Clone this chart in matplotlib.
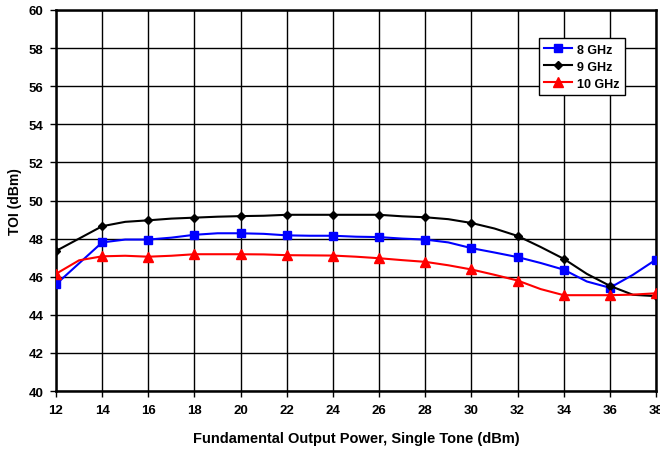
import numpy as np
import matplotlib

matplotlib.use("Agg")
import matplotlib.pyplot as plt

plt.rcParams["font.family"] = ["Liberation Sans", "DejaVu Sans"]
plt.rcParams["font.weight"] = "bold"

# power levels (dBm), 1 dB steps; markers are drawn on the even ones
power = [12, 13, 14, 15, 16, 17, 18, 19, 20, 21, 22, 23, 24, 25,
         26, 27, 28, 29, 30, 31, 32, 33, 34, 35, 36, 37, 38]

toi_8ghz = [45.6, 46.7, 47.8, 47.95, 47.95, 48.05, 48.2, 48.28, 48.28, 48.25,
            48.17, 48.15, 48.15, 48.1, 48.08, 48.0, 47.95, 47.8, 47.5, 47.27,
            47.03, 46.72, 46.37, 45.75, 45.42, 46.1, 46.9]
toi_9ghz = [47.35, 48.0, 48.65, 48.88, 48.96, 49.05, 49.1, 49.15, 49.18, 49.2,
            49.25, 49.25, 49.25, 49.25, 49.25, 49.17, 49.12, 49.02, 48.82, 48.53,
            48.14, 47.56, 46.94, 46.15, 45.52, 45.05, 44.98]
toi_10ghz = [46.15, 46.86, 47.07, 47.1, 47.05, 47.1, 47.18, 47.18, 47.18, 47.17,
             47.13, 47.12, 47.11, 47.05, 46.97, 46.87, 46.78, 46.6, 46.38, 46.1,
             45.8, 45.35, 45.03, 45.03, 45.03, 45.06, 45.13]

series = [
    ("8 GHz", toi_8ghz, "#0000FF", "s", 5.5),
    ("9 GHz", toi_9ghz, "#000000", "D", 4.5),
    ("10 GHz", toi_10ghz, "#FF0000", "^", 6.5),
]


def plot_toi():
    fig = plt.figure(figsize=(6.6, 4.52), dpi=100)
    ax = fig.add_axes([0.0848, 0.1327, 0.9092, 0.843])

    for label, values, color, marker, ms in series:
        ax.plot(power, values, color=color, lw=1.5, marker=marker, ms=ms,
                markevery=2, label=label, zorder=3)

    ax.set_xlim(12, 38)
    ax.set_ylim(40, 60)
    ax.set_xticks(np.arange(12, 39, 2))
    ax.set_yticks(np.arange(40, 61, 2))
    ax.grid(True, color="black", lw=1.0)
    ax.set_axisbelow(True)
    for s in ax.spines.values():
        s.set_linewidth(1.8)
    ax.tick_params(direction="out", length=4, width=1, labelsize=9.5, pad=5)
    for t in ax.get_xticklabels() + ax.get_yticklabels():
        t.set_fontweight("bold")

    ax.set_xlabel("Fundamental Output Power, Single Tone (dBm)",
                  fontsize=10.5, fontweight="bold", labelpad=11)
    ax.set_ylabel("TOI (dBm)", fontsize=10, fontweight="bold")
    ax.yaxis.set_label_coords(-0.057, 0.5)

    leg = ax.legend(loc="upper right", bbox_to_anchor=(0.948, 0.926),
                    fancybox=False, framealpha=1, edgecolor="black",
                    prop={"weight": "bold", "size": 9},
                    handlelength=2.2, borderpad=0.45, labelspacing=0.4,
                    handletextpad=0.4, borderaxespad=0)
    leg.get_frame().set_linewidth(1.0)

    fig.savefig("out.png", dpi=100)
    plt.close(fig)


if __name__ == "__main__":
    plot_toi()
